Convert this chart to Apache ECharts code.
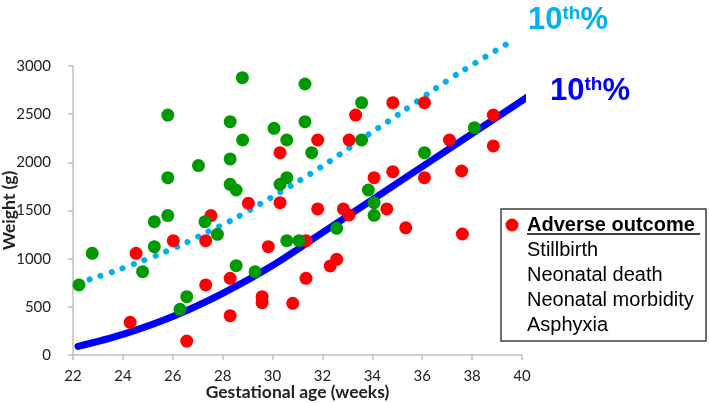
<!DOCTYPE html>
<html><head><meta charset="utf-8">
<script src="https://cdn.jsdelivr.net/npm/echarts@6/dist/echarts.min.js"></script>
<style>html,body{margin:0;padding:0;background:#fff}#c{width:709px;height:403px}</style>
</head><body><div id="c"></div>
<script>
// Gestational age (weeks) vs weight (g)
const adverseOutcome = [
  [24.29,339],[24.53,1055],[26.02,1187],[26.56,145],[27.32,1187],[27.32,727],[27.53,1447],
  [28.30,796],[28.30,408],[29.03,1575],[29.58,605],[29.58,543],[29.83,1125],[30.30,2100],
  [30.30,1581],[30.81,536],[31.34,1187],[31.34,796],[31.81,2232],[31.81,1516],[32.31,924],
  [32.57,993],[32.84,1516],[33.07,2232],[33.07,1453],[33.33,2491],[34.07,1841],[34.58,1516],
  [34.82,2619],[34.82,1903],[35.34,1320],[36.09,2619],[36.09,1841],[37.09,2232],[37.58,1910],
  [37.61,1256],[38.85,2491],[38.85,2170]
];
const noAdverseOutcome = [
  [22.24,727],[22.77,1055],[24.79,865],[25.26,1384],[25.26,1125],[25.80,1447],[25.80,2491],
  [25.80,1841],[26.29,474],[26.56,605],[27.03,1966],[27.29,1384],[27.79,1253],[28.30,2422],
  [28.30,2035],[28.30,1772],[28.54,1713],[28.54,927],[28.79,2879],[28.80,2232],[29.30,865],
  [30.06,2353],[30.30,1772],[30.57,2232],[30.57,1841],[30.57,1187],[31.06,1187],[31.30,2813],
  [31.30,2422],[31.57,2100],[32.57,1315],[33.57,2232],[33.57,2619],[33.84,1713],[34.07,1581],
  [34.07,1450],[36.09,2100],[38.09,2360]
];
// 10th percentile curves
const tenthCentileA = [
  [22.2,90],[24,215],[26,400],[28,640],[30,930],[32,1270],[34,1612],[36,1955],[38,2298],[40.35,2700]
];
const tenthCentileB = [
  [21.75,720],[22.71,789],[23.68,872],[24.62,962],[25.55,1055],[26.49,1160],[27.36,1274],
  [28.30,1391],[29.59,1581],[30.9,1782],[32.17,1990],[33.82,2284],[35.07,2502],[36.31,2727],
  [37.56,2941],[39.72,3280]
];
const xTickInfo = {min:22, max:40, interval:2};
const yTickInfo = {min:0, max:3000, interval:500};
const legendItems = ['Adverse outcome','Stillbirth','Neonatal death','Neonatal morbidity','Asphyxia'];

const axisCol = '#bfbfbf';
const tickFont = 'Lato, "Liberation Sans", sans-serif';
const chart = echarts.init(document.getElementById('c'), null, {renderer:'canvas'});

const legendGraphics = [
  {type:'rect', shape:{x:501,y:209,width:205,height:132}, style:{fill:'#fff',stroke:'#404040',lineWidth:1.5}, z:100},
  {type:'circle', shape:{cx:512,cy:225,r:6.5}, style:{fill:'#ff0000'}, z:101},
  {type:'line', shape:{x1:527,y1:234,x2:700,y2:234}, style:{stroke:'#000',lineWidth:1.5}, z:101}
];
legendItems.forEach((t,i)=>{
  legendGraphics.push({type:'text', z:101, style:{
    text:t, x:527, y:225+25*i, verticalAlign:'middle', align:'left',
    font:(i===0?'bold ':'')+'20px "Liberation Sans", Arial, sans-serif', fill:'#000'
  }});
});
function curveText(x,y,color){
  return {type:'text', z:50, style:{
    text:'{a|10}{b|th}{a|%}', x:x, y:y, verticalAlign:'middle', align:'left',
    rich:{
      a:{fontSize:31, fontWeight:'bold', fontFamily:'"Liberation Sans", Arial, sans-serif', fill:color, color:color},
      b:{fontSize:19, fontWeight:'bold', fontFamily:'"Liberation Sans", Arial, sans-serif', fill:color, color:color, verticalAlign:'top', padding:[0,0,8,0]}
    }
  }};
}

chart.setOption({
  animation:false,
  backgroundColor:'#fff',
  grid:{left:73, right:187, top:66, bottom:48, containLabel:false, outerBoundsMode:'none'},
  xAxis:{
    type:'value', min:xTickInfo.min, max:xTickInfo.max, interval:xTickInfo.interval,
    axisLine:{show:true, lineStyle:{color:axisCol, width:1.5}},
    axisTick:{show:true, length:5, lineStyle:{color:axisCol, width:1.5}},
    axisLabel:{fontSize:15, color:'#222', margin:14, fontFamily:tickFont},
    splitLine:{show:false},
    name:'Gestational age (weeks)', nameLocation:'middle', nameGap:28, nameMoveOverlap:false,
    nameTextStyle:{fontSize:17.5, fontWeight:'bold', color:'#222', fontFamily:tickFont}
  },
  yAxis:{
    type:'value', min:yTickInfo.min, max:yTickInfo.max, interval:yTickInfo.interval,
    axisLine:{show:true, lineStyle:{color:axisCol, width:1.5}},
    axisTick:{show:true, length:5, lineStyle:{color:axisCol, width:1.5}},
    axisLabel:{fontSize:15, color:'#222', margin:22, fontFamily:tickFont, formatter:(v)=>String(v)},
    splitLine:{show:false},
    name:'Weight (g)', nameLocation:'middle', nameGap:55, nameRotate:90, nameMoveOverlap:false,
    nameTextStyle:{fontSize:17.5, fontWeight:'bold', color:'#222', fontFamily:tickFont}
  },
  series:[
    {type:'line', data:tenthCentileB, smooth:0.3, symbol:'none', clip:false, z:2,
      lineStyle:{color:'#00b0f0', width:6, type:[0.1,11.6], cap:'round'}},
    {type:'line', data:tenthCentileA, smooth:0.3, symbol:'none', clip:false, z:2,
      lineStyle:{color:'#0000ff', width:7, cap:'round'}},
    {type:'scatter', name:'Adverse outcome', data:adverseOutcome, symbolSize:13, z:3,
      itemStyle:{color:'#ff0000', opacity:1}},
    {type:'scatter', name:'No adverse outcome', data:noAdverseOutcome, symbolSize:13, z:4,
      itemStyle:{color:'#009900', opacity:1}}
  ],
  graphic:[curveText(528,20,'#00b0f0'), curveText(550,91,'#0000ff')].concat(legendGraphics)
});
</script></body></html>
